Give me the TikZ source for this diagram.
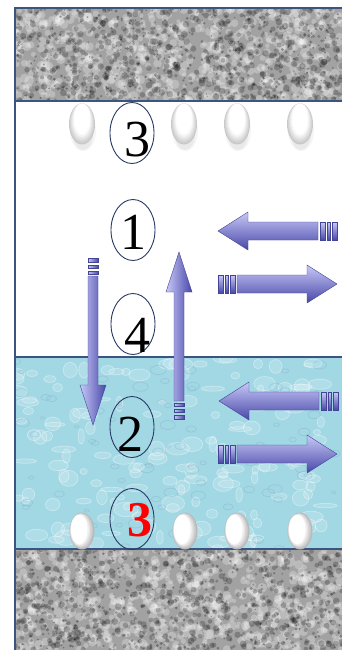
\documentclass[tikz,border=0pt]{standalone}
\usepackage{fontspec}
\setmainfont{Liberation Serif}
\usetikzlibrary{shapes.geometric}

\definecolor{framecol}{RGB}{59,84,128}
\definecolor{ringcol}{RGB}{40,58,100}
\definecolor{rockbase}{RGB}{162,162,162}
\definecolor{waterbase}{RGB}{162,216,228}
\definecolor{arrlight}{RGB}{200,200,248}
\definecolor{arrmid}{RGB}{135,135,225}
\definecolor{arrdark}{RGB}{72,72,168}
\definecolor{arredge}{RGB}{68,68,150}

\tikzset{
  ring/.style={ellipse, draw=ringcol, line width=0.9pt, minimum width=44pt,
    minimum height=61pt, inner sep=0pt},
  digit/.style={inner sep=0pt, font=\fontsize{52}{52}\selectfont},
  reddigit/.style={digit, text=red, font=\fontsize{50}{50}\selectfont\bfseries},
  frameline/.style={draw=framecol, line width=1.2pt},
  % horizontal block arrow, tip at the origin, pointing right
  harrow/.pic={
    \draw[top color=arrlight, middle color=arrmid, bottom color=arrdark,
          draw=arredge, line width=0.4pt]
      (0,0) -- (-30,-19) -- (-30,-9) -- (-100,-9) -- (-100,9) -- (-30,9) -- (-30,19) -- cycle;
    \draw[top color=arrlight, bottom color=arrdark, draw=arredge, line width=0.3pt]
      (-102,-9) rectangle (-107,9);
    \draw[top color=arrlight, bottom color=arrdark, draw=arredge, line width=0.3pt]
      (-109,-9) rectangle (-112,9);
    \draw[top color=arrlight, bottom color=arrdark, draw=arredge, line width=0.3pt]
      (-114,-9) rectangle (-119,9);
  },
  % vertical block arrow, tip at the origin, tail above it
  varrow/.pic={
    \draw[left color=arrlight, middle color=arrmid, right color=arrdark,
          draw=arredge, line width=0.4pt]
      (0,0) -- (-13,-40) -- (-5,-40) -- (-5,-149) -- (5,-149) -- (5,-40) -- (13,-40) -- cycle;
    \draw[left color=arrlight, right color=arrdark, draw=arredge, line width=0.3pt]
      (-5,-151) rectangle (5,-154);
    \draw[left color=arrlight, right color=arrdark, draw=arredge, line width=0.3pt]
      (-5,-157) rectangle (5,-160);
    \draw[left color=arrlight, right color=arrdark, draw=arredge, line width=0.3pt]
      (-5,-163) rectangle (5,-167);
  },
  % pale egg: grey rim, thickest at the bottom, white inside
  paleegg/.pic={
    \fill[gray, opacity=0.08] (1,7) ellipse[x radius=13, y radius=20];
    \fill[gray, opacity=0.10] (1,10) ellipse[x radius=10, y radius=16];
    \foreach \k in {0,...,6}{
      \pgfmathsetmacro\g{max(0,42-8*\k)}
      \fill[gray!\g!white] (0,-0.9*\k) ellipse[x radius=13-0.9*\k, y radius=20.5-0.9*\k];
    }
  },
  % solid white egg, shaded towards its right side
  solidegg/.pic={
    \foreach \k in {0,...,6}{
      \pgfmathsetmacro\g{max(0,55-11*\k)}
      \fill[gray!\g!white] (-0.55*\k,-0.3*\k) ellipse[x radius=12.5-0.85*\k, y radius=18.5-0.75*\k];
    }
  }
}

\begin{document}
\begin{tikzpicture}[x=1pt,y=-1pt]
\useasboundingbox (0,0) rectangle (342,650);
\fill[white] (0,0) rectangle (342,650);

% rock layers above and below: soft grey mottling
\fill[rockbase] (15,8) rectangle (342,101);
\fill[rockbase] (15,549) rectangle (342,650);
\begin{scope}
  \clip (15,8) rectangle (342,101) (15,549) rectangle (342,650);
  \pgfmathsetseed{4}
  \foreach \ya/\h in {8/93,549/101}{
    \foreach \i in {1,...,700}{
      \pgfmathsetmacro\xx{15+327*rnd}
      \pgfmathsetmacro\yy{\ya+\h*rnd}
      \pgfmathsetmacro\rr{1.8+3.2*rnd}
      \fill[white, opacity=0.26] (\xx,\yy) circle[radius=\rr];
    }
    \foreach \i in {1,...,700}{
      \pgfmathsetmacro\xx{15+327*rnd}
      \pgfmathsetmacro\yy{\ya+\h*rnd}
      \pgfmathsetmacro\rr{1.0+2.4*rnd}
      \fill[black, opacity=0.22] (\xx,\yy) circle[radius=\rr];
    }
    \foreach \i in {1,...,220}{
      \pgfmathsetmacro\xx{15+327*rnd}
      \pgfmathsetmacro\yy{\ya+\h*rnd}
      \pgfmathsetmacro\rr{0.7+1.0*rnd}
      \fill[black, opacity=0.3] (\xx,\yy) circle[radius=\rr];
    }
  }
\end{scope}

% water layer with droplets
\fill[waterbase] (15,357) rectangle (342,549);
\begin{scope}
  \clip (15,357) rectangle (342,549);
  \pgfmathsetseed{9}
  \foreach \i in {1,...,160}{
    \pgfmathsetmacro\xx{15+327*rnd}
    \pgfmathsetmacro\yy{357+192*rnd}
    \pgfmathsetmacro\ra{3+9*rnd}
    \pgfmathsetmacro\rb{2+6*rnd}
    \draw[white, opacity=0.35, line width=0.8pt, fill=white, fill opacity=0.15]
      (\xx,\yy) ellipse[x radius=\ra, y radius=\rb];
  }
  \foreach \i in {1,...,80}{
    \pgfmathsetmacro\xx{15+327*rnd}
    \pgfmathsetmacro\yy{357+192*rnd}
    \pgfmathsetmacro\ra{2+6*rnd}
    \draw[cyan!40!blue!60!black, opacity=0.12, line width=0.8pt]
      (\xx,\yy) ellipse[x radius=\ra, y radius=\ra*0.6];
  }
\end{scope}

% frame and layer boundaries
\draw[frameline] (15,650) -- (15,8) -- (342,8);
\draw[frameline] (15,101) -- (342,101);
\draw[frameline] (15,357) -- (342,357);
\draw[frameline] (15,549) -- (342,549);

% upper row of pale eggs
\foreach \ex in {82,184,237,300}{
  \pic at (\ex,124) {paleegg};
}
% lower row of eggs resting on the boundary
\foreach \ex in {82,185,237,300}{
  \pic at (\ex,531) {solidegg};
}

% numbered rings
\node[ring] (r3top) at (132,133) {};
\node[ring] (r1) at (133,230) {};
\node[ring] (r4) at (133,324) {};
\node[ring] (r2) at (132,427) {};
\node[ring] (r3bot) at (132,519) {};

\node[digit] (n3top) at (137,139.5) {3};
\node[digit] (n1) at (133,232) {1};
\node[digit] (n4) at (137,335) {4};
\node[digit] (n2) at (130,434.5) {2};
\node[reddigit] (n3bot) at (140,520) {3};

% vertical exchange arrows
\pic at (93,425) {varrow};
\pic[yscale=-1] at (179,252) {varrow};

% horizontal exchange arrows
\pic[xscale=-1] at (218,231) {harrow};
\pic at (337,284) {harrow};
\pic[xscale=-1] at (219,401) {harrow};
\pic at (337,454) {harrow};
\end{tikzpicture}
\end{document}
